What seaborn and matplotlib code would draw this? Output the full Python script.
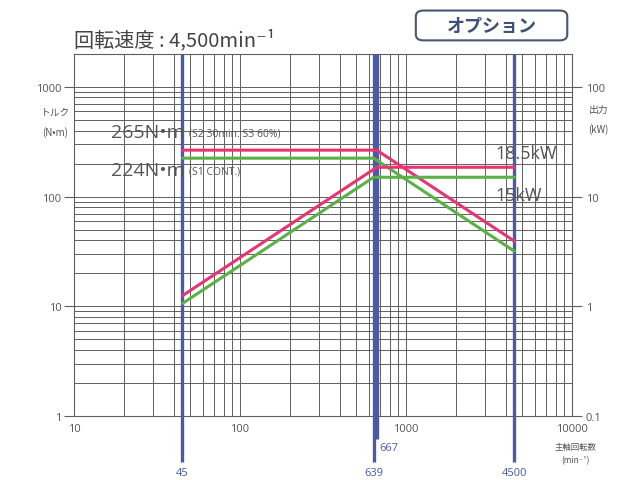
import numpy as np
import pandas as pd
import matplotlib
matplotlib.use('Agg')
from matplotlib import pyplot as plt
from matplotlib.patches import FancyBboxPatch
import seaborn as sns

# speed (min^-1), torque (N·m), power (kW)
speed_s2 = [45, 667, 4500]
torque_s2 = [265, 265, 39.3]
power_s2 = [1.25, 18.5, 18.5]
speed_s1 = [45, 639, 4500]
torque_s1 = [224, 224, 31.8]
power_s1 = [1.06, 15, 15]
marker_speeds = [45, 639, 667, 4500]
marker_labels = ['45', '639', '667', '4500']

PINK = '#e8356f'
GREEN = '#5bb046'
BLUE = '#4b5aa6'
GRAY = '#555555'
LATIN = ['Open Sans', 'DejaVu Sans']

sns.set_style('white')
plt.rcParams['font.family'] = ['Noto Sans CJK JP', 'DejaVu Sans']

fig = plt.figure(figsize=(6.31, 4.81), dpi=100)
ax = fig.add_axes([0.1173, 0.133, 0.789, 0.753])
ax.set_xscale('log')
ax.set_yscale('log')
ax.set_xlim(10, 10000)
ax.set_ylim(1, 2000)

ax.grid(True, which='both', color='#5e5e5e', lw=0.7)
ax.set_axisbelow(True)
for sp in ax.spines.values():
    sp.set_color('#5e5e5e')
    sp.set_linewidth(0.8)

ax2 = ax.twinx()
ax2.set_yscale('log')
ax2.set_ylim(0.1, 200)
for sp in ax2.spines.values():
    sp.set_visible(False)

# vertical speed markers
trans = ax.get_xaxis_transform()
ext = {45: -0.127, 639: -0.127, 667: -0.063, 4500: -0.127}
for s in marker_speeds:
    ax.plot([s, s], [ext[s], 1], transform=trans, color=BLUE, lw=2.4,
            clip_on=False, zorder=3, solid_capstyle='butt')
for s, lb in zip(marker_speeds, marker_labels):
    if lb == '667':
        ax.text(s * 1.035, -0.088, lb, transform=trans, color=BLUE, fontsize=8,
                ha='left', va='center', family=LATIN)
    else:
        ax.text(s, -0.14, lb, transform=trans, color=BLUE, fontsize=8,
                ha='center', va='top', family=LATIN)

d2 = pd.DataFrame({'speed': speed_s2, 'torque': torque_s2, 'power': power_s2})
d1 = pd.DataFrame({'speed': speed_s1, 'torque': torque_s1, 'power': power_s1})
sns.lineplot(data=d2, x='speed', y='torque', ax=ax, color=PINK, lw=2.2, zorder=4)
sns.lineplot(data=d1, x='speed', y='torque', ax=ax, color=GREEN, lw=2.2, zorder=4)
sns.lineplot(data=d2, x='speed', y='power', ax=ax2, color=PINK, lw=2.2, zorder=4)
sns.lineplot(data=d1, x='speed', y='power', ax=ax2, color=GREEN, lw=2.2, zorder=4)

ax.set_xlabel('')
ax.set_ylabel('')
ax2.set_ylabel('')
ax.set_xticks([10, 100, 1000, 10000])
ax.set_xticklabels(['10', '100', '1000', '10000'], family=LATIN)
ax.set_yticks([1, 10, 100, 1000])
ax.set_yticklabels(['1', '10', '100', '1000'], family=LATIN)
ax2.set_yticks([0.1, 1, 10, 100])
ax2.set_yticklabels(['0.1', '1', '10', '100'], family=LATIN)
ax.tick_params(axis='both', which='minor', length=0)
ax2.tick_params(axis='y', which='minor', length=0)
ax.tick_params(axis='y', which='major', length=7, width=0.8, color='#5e5e5e',
               labelsize=8, labelcolor=GRAY, pad=2)
ax.tick_params(axis='x', which='major', length=0, labelsize=8, labelcolor=GRAY, pad=5)
ax2.tick_params(axis='y', which='major', length=7, width=0.8, color='#5e5e5e',
                labelsize=8, labelcolor=GRAY, pad=3)

# annotations
t1 = ax.text(0.075, 0.785, '265N•m', transform=ax.transAxes, fontsize=14,
             color=GRAY, ha='left', va='center', family=LATIN)
ax.annotate('(S2 30min. S3 60%)', xy=(1, 0.45), xycoords=t1, xytext=(3, 0),
            textcoords='offset points', fontsize=7.5, color=GRAY, ha='left',
            va='center', family=LATIN)
t2 = ax.text(0.075, 0.678, '224N•m', transform=ax.transAxes, fontsize=14,
             color=GRAY, ha='left', va='center', family=LATIN)
ax.annotate('(S1 CONT.)', xy=(1, 0.45), xycoords=t2, xytext=(3, 0),
            textcoords='offset points', fontsize=7.5, color=GRAY, ha='left',
            va='center', family=LATIN)
ax.text(0.846, 0.727, '18.5kW', transform=ax.transAxes, fontsize=13, color=GRAY,
        ha='left', va='center', family=LATIN)
ax.text(0.846, 0.61, '15kW', transform=ax.transAxes, fontsize=13, color=GRAY,
        ha='left', va='center', family=LATIN)

fig.text(0.088, 0.744, 'トルク\n(N•m)', fontsize=7, color=GRAY, ha='center',
         va='center', linespacing=2.0)
fig.text(0.948, 0.75, '出力\n(kW)', fontsize=7, color=GRAY, ha='center',
         va='center', linespacing=2.0)
fig.text(0.912, 0.056, '主軸回転数\n(min⁻¹)', fontsize=6, color=GRAY, ha='center',
         va='center', linespacing=1.5)

fig.text(0.118, 0.915, '回転速度 : 4,500min⁻¹', fontsize=14.5, color='#444444',
         ha='left', va='center')

box = FancyBboxPatch((0.665, 0.92), 0.228, 0.05, boxstyle='round,pad=0.006,rounding_size=0.012',
                     transform=fig.transFigure, fc='white', ec='#4a5670', lw=1.5)
fig.patches.append(box)
fig.text(0.779, 0.945, 'オプション', fontsize=13, fontweight='bold', color='#3e4f78',
         ha='center', va='center')

fig.savefig('out.png', dpi=100, facecolor='white')
